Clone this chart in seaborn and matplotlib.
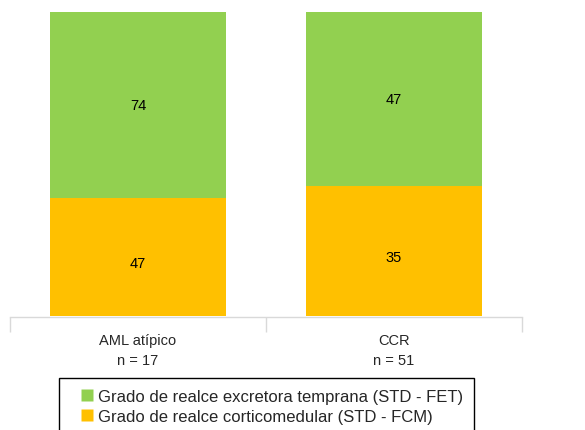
import numpy as np
import pandas as pd
import seaborn as sns
import matplotlib.pyplot as plt
from matplotlib.lines import Line2D

# datos
grupos = ["AML atípico", "CCR"]
n_casos = [17, 51]
fet = [74, 47]   # Grado de realce excretora temprana
fcm = [47, 35]   # Grado de realce corticomedular

verde = "#92D050"
naranja = "#FFC000"

df = pd.DataFrame({"grupo": grupos, "n": n_casos, "fet": fet, "fcm": fcm})
df["total"] = df["fet"] + df["fcm"]
df["pct_fcm"] = df["fcm"] / df["total"] * 100
df["pct_tot"] = 100.0
df["etiqueta"] = [f"{g}\nn = {n}" for g, n in zip(df["grupo"], df["n"])]

sns.set_style("white")
plt.rcParams["font.family"] = ["Liberation Sans", "DejaVu Sans"]

fig = plt.figure(figsize=(5.85, 4.31), dpi=100)
ax = fig.add_axes([10 / 585, 1 - 317 / 431, 512 / 585, 304 / 431])

sns.barplot(data=df, x="etiqueta", y="pct_tot", color=verde, width=0.69,
            saturation=1, linewidth=0, edgecolor="none", ax=ax)
sns.barplot(data=df, x="etiqueta", y="pct_fcm", color=naranja, width=0.69,
            saturation=1, linewidth=0, edgecolor="none", ax=ax)

# valores dentro de cada segmento
for i, row in df.iterrows():
    ax.text(i, row["pct_fcm"] / 2 - 2, str(row["fcm"]), ha="center", va="center",
            fontsize=10.5, color="black")
    ax.text(i, row["pct_fcm"] + (100 - row["pct_fcm"]) / 2, str(row["fet"]),
            ha="center", va="center", fontsize=10.5, color="black")

ax.set_ylim(0, 100)
ax.set_xlim(-0.5, 1.5)
ax.set_xlabel("")
ax.set_ylabel("")
ax.set_yticks([])
for s in ["left", "right", "top"]:
    ax.spines[s].set_visible(False)
ax.spines["bottom"].set_color("#d9d9d9")
ax.spines["bottom"].set_linewidth(1.0)
ax.spines["bottom"].set_position(("outward", 1))

ax.set_xticks([-0.5, 0.5, 1.5], minor=True)
ax.tick_params(axis="x", which="minor", length=11, color="#d9d9d9", width=1.0,
               direction="out", bottom=True)
ax.tick_params(axis="x", which="major", length=0, pad=11, labelsize=10.5)
for lab in ax.get_xticklabels():
    lab.set_linespacing(1.6)

handles = [Line2D([], [], ls="none", marker="s", markersize=8.8,
                  markerfacecolor=verde, markeredgecolor="none"),
           Line2D([], [], ls="none", marker="s", markersize=8.8,
                  markerfacecolor=naranja, markeredgecolor="none")]
labels = ["Grado de realce excretora temprana (STD - FET)",
          "Grado de realce corticomedular (STD - FCM)"]
leg = fig.legend(handles, labels, loc="upper left",
                 bbox_to_anchor=(59 / 585, 1 - 379 / 431), fontsize=12,
                 frameon=True, fancybox=False, edgecolor="black",
                 handlelength=2.05, handletextpad=-0.36,
                 labelspacing=0.3, borderpad=0.65, borderaxespad=0,
                 framealpha=1)
leg.get_frame().set_linewidth(1.0)

fig.savefig("out.png", dpi=100)
